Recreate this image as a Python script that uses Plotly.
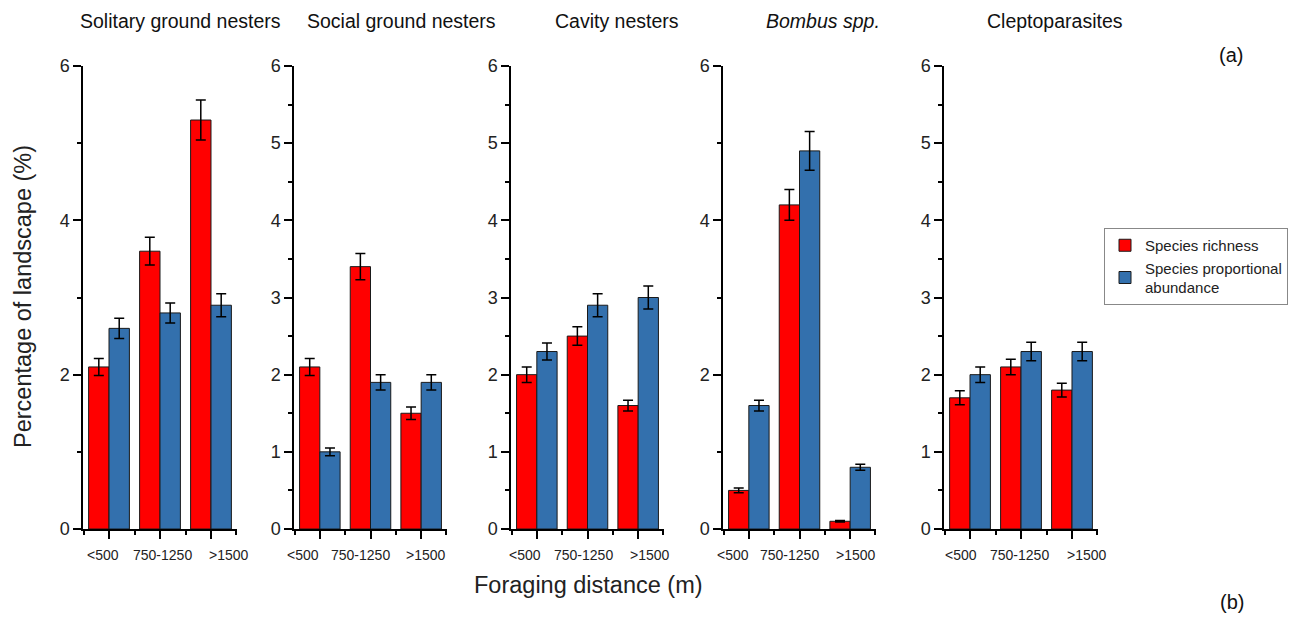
import plotly.graph_objects as go

# ---------------- data ----------------
categories = ["<500", "750-1250", ">1500"]
groups = ["Solitary ground nesters", "Social ground nesters", "Cavity nesters",
          "<i>Bombus spp.</i>", "Cleptoparasites"]
richness = [[2.1, 3.6, 5.3], [2.1, 3.4, 1.5], [2.0, 2.5, 1.6], [0.5, 4.2, 0.1], [1.7, 2.1, 1.8]]
richness_err = [[0.11, 0.18, 0.26], [0.11, 0.17, 0.08], [0.10, 0.12, 0.07], [0.03, 0.20, 0.01], [0.09, 0.10, 0.09]]
abundance = [[2.6, 2.8, 2.9], [1.0, 1.9, 1.9], [2.3, 2.9, 3.0], [1.6, 4.9, 0.8], [2.0, 2.3, 2.3]]
abundance_err = [[0.13, 0.13, 0.15], [0.05, 0.10, 0.10], [0.11, 0.15, 0.15], [0.07, 0.25, 0.04], [0.10, 0.12, 0.12]]
series_names = ["Species richness", "Species proportional<br>abundance"]

# ---------------- layout helpers ----------------
W, H = 1304, 618
panel_px = [(83, 237), (294, 447), (511, 664), (723, 876), (944, 1098)]
title_px = [180, 401, 617, 823, 1055]
label_x = [[0.88, 2.04, 3.35], [0.67, 1.81, 3.10], [0.76, 1.92, 3.24], [0.69, 1.81, 3.12], [0.82, 1.98, 3.29]]
y_dom = [(H - 529) / H, (H - 66) / H]
RED = "#FF0000"
BLUE = "#3370AD"
FONT = "Liberation Sans, Arial, Helvetica, sans-serif"
pos = [1, 2, 3]

fig = go.Figure()
layout = {}
annotations = []
for i in range(5):
    sfx = "" if i == 0 else str(i + 1)
    xa, ya = "x" + sfx, "y" + sfx
    for vals, errs, color, name, og in [(richness[i], richness_err[i], RED, series_names[0], "r"),
                                        (abundance[i], abundance_err[i], BLUE, series_names[1], "b")]:
        fig.add_trace(go.Bar(
            x=pos, y=vals, name=name, offsetgroup=og, legendgroup=og,
            showlegend=(i == 0), xaxis=xa, yaxis=ya,
            marker=dict(color=color, line=dict(color="#1a1a1a", width=1)),
            error_y=dict(type="data", array=errs, color="black", thickness=1.5, width=5),
        ))
    l, r = panel_px[i]
    layout["xaxis" + sfx] = dict(
        domain=[l / W, r / W], range=[0.49, 3.51], anchor=ya,
        showline=True, linecolor="black", linewidth=1.5,
        tickmode="array", tickvals=pos, showticklabels=False,
        ticks="outside", ticklen=8, tickwidth=1.5, tickcolor="black",
        minor=dict(tickmode="array", tickvals=[0.5, 1.5, 2.5, 3.5], ticks="outside",
                   ticklen=4, tickwidth=1.5, tickcolor="black"),
        showgrid=False, zeroline=False, fixedrange=True,
    )
    if i in (0, 3):
        major = [0, 2, 4, 6]
        minor = [1, 3, 5]
    else:
        major = [0, 1, 2, 3, 4, 5, 6]
        minor = [0.5, 1.5, 2.5, 3.5, 4.5, 5.5]
    layout["yaxis" + sfx] = dict(
        domain=list(y_dom), range=[0, 6], anchor=xa,
        showline=True, linecolor="black", linewidth=1.5,
        tickmode="array", tickvals=major, ticktext=[str(v) for v in major],
        ticks="outside", ticklen=8, tickwidth=1.5, tickcolor="black",
        minor=dict(tickmode="array", tickvals=minor, ticks="outside",
                   ticklen=4, tickwidth=1.5, tickcolor="black"),
        tickfont=dict(size=18, color="#222", family=FONT),
        showgrid=False, zeroline=False, fixedrange=True,
    )
    annotations.append(dict(text=groups[i], x=title_px[i] / W, y=(H - 21) / H,
                            xref="paper", yref="paper", showarrow=False,
                            xanchor="center", yanchor="middle",
                            font=dict(size=19.5, color="#111", family=FONT)))
    for k, cat in enumerate(categories):
        annotations.append(dict(text=cat, x=label_x[i][k], y=(H - 555) / H,
                                xref=xa, yref="paper", showarrow=False,
                                xanchor="center", yanchor="middle",
                                font=dict(size=14, color="#222", family=FONT)))

annotations += [
    dict(text="Percentage of landscape (%)", x=23 / W, y=(H - 297) / H, textangle=-90,
         xref="paper", yref="paper", showarrow=False, xanchor="center", yanchor="middle",
         font=dict(size=23.5, color="#222", family=FONT)),
    dict(text="Foraging distance (m)", x=588 / W, y=(H - 585) / H,
         xref="paper", yref="paper", showarrow=False, xanchor="center", yanchor="middle",
         font=dict(size=23.5, color="#222", family=FONT)),
    dict(text="(a)", x=1231 / W, y=(H - 55) / H,
         xref="paper", yref="paper", showarrow=False, xanchor="center", yanchor="middle",
         font=dict(size=20, color="#111", family=FONT)),
    dict(text="(b)", x=1232 / W, y=(H - 602) / H,
         xref="paper", yref="paper", showarrow=False, xanchor="center", yanchor="middle",
         font=dict(size=20, color="#111", family=FONT)),
]

fig.update_layout(
    width=W, height=H,
    margin=dict(l=0, r=0, t=0, b=0, autoexpand=False),
    paper_bgcolor="white", plot_bgcolor="white",
    barmode="group", bargap=0.2, bargroupgap=0,
    annotations=annotations,
    legend=dict(x=1104 / W, y=(H - 228) / H, xanchor="left", yanchor="top",
                bgcolor="white", bordercolor="#888", borderwidth=1,
                font=dict(size=15, color="#222", family=FONT),
                tracegroupgap=0, itemwidth=30),
    font=dict(family=FONT),
    **layout,
)

fig.write_html("out.html")
